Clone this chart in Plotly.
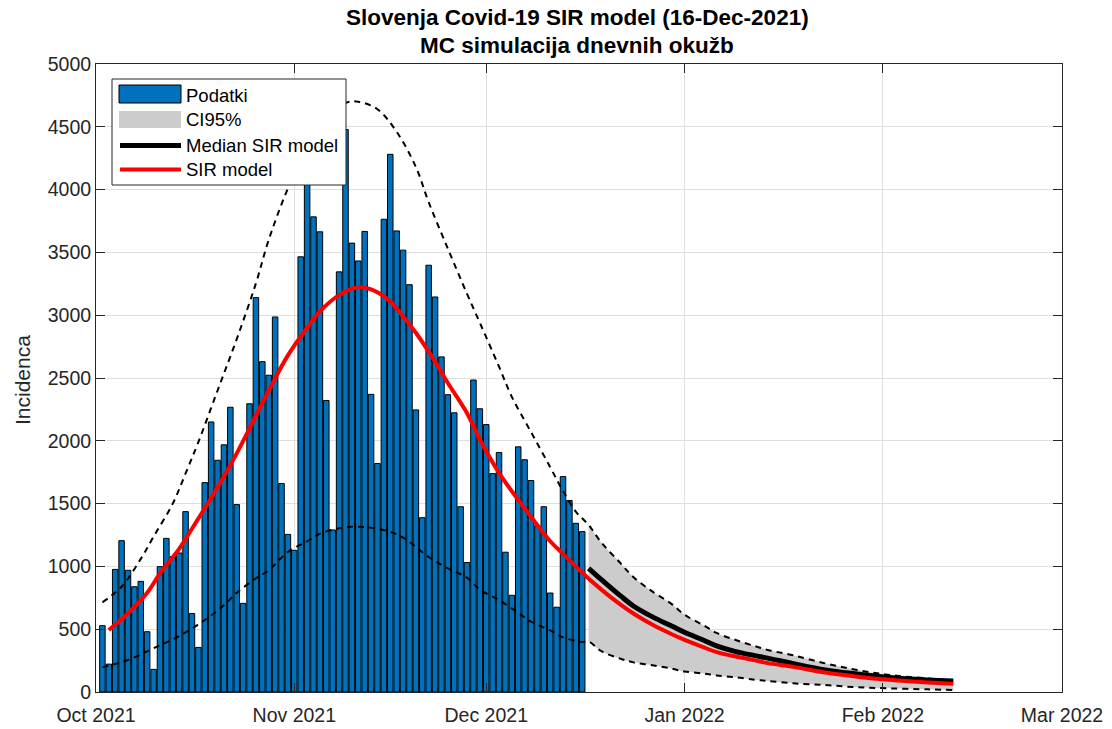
import pandas as pd
import plotly.graph_objects as go

# ---------------------------------------------------------------------------
# Data
# ---------------------------------------------------------------------------
origin = pd.Timestamp("2021-10-01")

# Daily confirmed infections, 2 Oct – 16 Dec 2021
cases = [
    528, 222, 976, 1205, 969, 838, 881, 480, 180, 998,
    1223, 1078, 1107, 1436, 625, 355, 1667, 2150, 1845, 1968,
    2267, 1492, 706, 2295, 3140, 2630, 2522, 2986, 1660, 1255,
    1128, 3465, 4090, 3783, 3664, 2321, 1290, 3345, 4478, 3574,
    3432, 3667, 2370, 1819, 3764, 4281, 3671, 3518, 3243, 2246,
    1388, 3398, 3145, 2668, 2367, 2223, 1475, 1031, 2484, 2255,
    2129, 1739, 1907, 1113, 770, 1952, 1849, 1684, 1323, 1475,
    788, 675, 1715, 1525, 1343, 1277,
]
case_first_day = "2021-10-02"

# SIR model fit (days after 1 Oct 2021)
sir_day = [2, 5, 8, 10, 13, 15, 18, 20, 22, 25, 27, 30, 33, 35, 38, 41, 43, 46,
           48, 50, 53, 55, 58, 60, 63, 66, 68, 71, 73, 76, 79, 82, 84, 87, 90,
           92, 95, 97, 100, 103, 105, 109, 114, 119, 124, 130, 134]
sir_val = [494, 626, 790, 945, 1140, 1300, 1545, 1715, 1900, 2200, 2400, 2680,
           2900, 3030, 3160, 3222, 3205, 3110, 2990, 2860, 2630, 2460, 2220,
           2010, 1745, 1530, 1395, 1200, 1100, 950, 815, 695, 625, 535, 460,
           415, 355, 318, 282, 252, 230, 200, 155, 122, 97, 76, 66]

# 95 % Monte-Carlo envelope (days after 1 Oct 2021)
ci_day = [1, 4, 7, 9, 12, 14, 16, 19, 22, 25, 27, 30, 33, 36, 39, 41, 44, 47,
          50, 52, 55, 58, 60, 63, 65, 68, 71, 73, 75, 77, 79, 82, 84, 87, 90,
          92, 95, 97, 100, 103, 105, 109, 114, 119, 124, 130, 134]
ci_upper = [714, 838, 1060, 1237, 1500, 1740, 1990, 2400, 2810, 3254, 3600,
            4010, 4330, 4560, 4690, 4700, 4640, 4460, 4180, 3900, 3530, 3170,
            2940, 2590, 2350, 2070, 1790, 1600, 1436, 1330, 1190, 1025, 915,
            799, 700, 615, 530, 470, 414, 365, 335, 292, 228, 175, 136, 108, 90]
ci_lower_day = [1, 5, 9, 13, 17, 20, 22, 25, 27, 30, 33, 35, 38, 40, 43, 46,
                48, 50, 52, 55, 58, 60, 63, 66, 68, 71, 73, 76, 77, 79, 82, 84,
                87, 90, 92, 95, 97, 100, 103, 105, 109, 114, 119, 124, 130, 134]
ci_lower = [196, 255, 348, 445, 573, 690, 790, 905, 970, 1115, 1200, 1260,
            1303, 1316, 1308, 1275, 1230, 1155, 1075, 985, 910, 815, 732, 630,
            560, 490, 435, 398, 402, 325, 265, 236, 213, 186, 163, 147, 132,
            117, 98, 88, 69, 55, 38, 29, 21, 16]

# Median of the simulated trajectories (forecast part)
med_day = [77, 79, 82, 84, 87, 90, 92, 95, 97, 100, 103, 105, 109, 114, 119,
           124, 130, 134]
med_val = [985, 895, 765, 685, 598, 525, 475, 412, 368, 322, 290, 270, 226,
           176, 143, 115, 96, 88]

forecast_start_day = 77   # 17 Dec 2021

month_ticks = ["2021-10-01", "2021-11-01", "2021-12-01",
               "2022-01-01", "2022-02-01", "2022-03-01"]
month_labels = ["Oct 2021", "Nov 2021", "Dec 2021",
                "Jan 2022", "Feb 2022", "Mar 2022"]
y_ticks = list(range(0, 5001, 500))

title_lines = ["Slovenja Covid-19 SIR model (16-Dec-2021)",
               "MC simulacija dnevnih okužb"]
legend_labels = ["Podatki", "CI95%", "Median SIR model", "SIR model"]

# ---------------------------------------------------------------------------
# Styling
# ---------------------------------------------------------------------------
W, H = 1112, 729
ML, MR, MT, MB = 96, 50, 64, 37
FONT = "Arial, 'Liberation Sans', Helvetica, sans-serif"
AX = "#262626"
BLUE = "#0072BD"
GREY = "#CCCCCC"
DASH = "6px,5px"
TICK_SIZE = 19.5


def to_dates(days):
    return [origin + pd.Timedelta(days=int(d)) for d in days]


def px_x(px):
    return (px - ML) / (W - ML - MR)


def px_y(py):
    return 1 - (py - MT) / (H - MT - MB)


case_dates = pd.date_range(case_first_day, periods=len(cases), freq="D")
band_up = [(d, v) for d, v in zip(ci_day, ci_upper) if d >= forecast_start_day]
band_lo = [(d, v) for d, v in zip(ci_lower_day, ci_lower) if d >= forecast_start_day]

fig = go.Figure()

# observed daily cases
fig.add_trace(go.Bar(
    x=case_dates, y=cases, width=0.86 * 86400000,
    marker=dict(color=BLUE, line=dict(color="black", width=1)),
    showlegend=False,
))

# shaded CI over the forecast horizon
fig.add_trace(go.Scatter(
    x=to_dates([d for d, _ in band_up]), y=[v for _, v in band_up],
    mode="lines", line=dict(width=0, shape="spline", color=GREY),
    showlegend=False, hoverinfo="skip",
))
fig.add_trace(go.Scatter(
    x=to_dates([d for d, _ in band_lo]), y=[v for _, v in band_lo],
    mode="lines", line=dict(width=0, shape="spline", color=GREY),
    fill="tonexty", fillcolor=GREY, showlegend=False, hoverinfo="skip",
))

# CI envelope lines
fig.add_trace(go.Scatter(
    x=to_dates(ci_day), y=ci_upper, mode="lines",
    line=dict(color="black", width=2, dash=DASH, shape="spline"),
    showlegend=False,
))
fig.add_trace(go.Scatter(
    x=to_dates(ci_lower_day), y=ci_lower, mode="lines",
    line=dict(color="black", width=2, dash=DASH, shape="spline"),
    showlegend=False,
))

# median forecast
fig.add_trace(go.Scatter(
    x=to_dates(med_day), y=med_val, mode="lines",
    line=dict(color="black", width=5, shape="spline"),
    showlegend=False,
))

# SIR model
fig.add_trace(go.Scatter(
    x=to_dates(sir_day), y=sir_val, mode="lines",
    line=dict(color="#FF0000", width=4, shape="spline"),
    showlegend=False,
))

# ---------------------------------------------------------------------------
# Legend (drawn as a boxed key in the upper-left corner)
# ---------------------------------------------------------------------------
shapes = [
    dict(type="rect", xref="paper", yref="paper", layer="above",
         x0=px_x(112), x1=px_x(346), y0=px_y(185), y1=px_y(79),
         line=dict(color=AX, width=1), fillcolor="white"),
    dict(type="rect", xref="paper", yref="paper", layer="above",
         x0=px_x(119), x1=px_x(181), y0=px_y(103), y1=px_y(85),
         line=dict(color="black", width=1), fillcolor=BLUE),
    dict(type="rect", xref="paper", yref="paper", layer="above",
         x0=px_x(119), x1=px_x(181), y0=px_y(128), y1=px_y(111),
         line=dict(width=0), fillcolor=GREY),
    dict(type="line", xref="paper", yref="paper", layer="above",
         x0=px_x(120), x1=px_x(181), y0=px_y(145.5), y1=px_y(145.5),
         line=dict(color="black", width=5)),
    dict(type="line", xref="paper", yref="paper", layer="above",
         x0=px_x(120), x1=px_x(181), y0=px_y(169.5), y1=px_y(169.5),
         line=dict(color="#FF0000", width=4)),
]
annotations = []
for label, cy in zip(legend_labels, [95, 120, 145, 169]):
    annotations.append(dict(
        text=label, xref="paper", yref="paper", x=px_x(184), y=px_y(cy),
        xanchor="left", yanchor="middle", showarrow=False,
        font=dict(family=FONT, size=18.5, color="black"),
    ))

# y-axis title
annotations.append(dict(
    text="Incidenca", xref="paper", yref="paper", x=px_x(22), y=px_y(380),
    xanchor="center", yanchor="middle", textangle=-90, showarrow=False,
    font=dict(family=FONT, size=21, color=AX),
))

# two-line bold title
for line, cy in zip(title_lines, [18, 46]):
    annotations.append(dict(
        text="<b>%s</b>" % line, xref="paper", yref="paper",
        x=px_x(577), y=px_y(cy), xanchor="center", yanchor="middle",
        showarrow=False, font=dict(family=FONT, size=22.5, color="black"),
    ))

fig.update_layout(
    width=W, height=H,
    margin=dict(l=ML, r=MR, t=MT, b=MB, autoexpand=False),
    paper_bgcolor="white", plot_bgcolor="white",
    font=dict(family=FONT, size=TICK_SIZE, color=AX),
    shapes=shapes, annotations=annotations,
    showlegend=False,
    xaxis=dict(
        type="date", range=["2021-10-01", "2022-03-01"],
        tickvals=month_ticks, ticktext=month_labels,
        showgrid=True, gridcolor="#DFDFDF", gridwidth=1,
        showline=True, linecolor=AX, linewidth=1, mirror="ticks",
        ticks="inside", ticklen=9, tickcolor=AX,
        tickfont=dict(family=FONT, size=TICK_SIZE, color=AX),
        ticklabelstandoff=6,
        zeroline=False, automargin=False,
    ),
    yaxis=dict(
        range=[0, 5000], tickvals=y_ticks,
        showgrid=True, gridcolor="#DFDFDF", gridwidth=1,
        showline=True, linecolor=AX, linewidth=1, mirror="ticks",
        ticks="inside", ticklen=9, tickcolor=AX,
        tickfont=dict(family=FONT, size=TICK_SIZE, color=AX),
        zeroline=False, automargin=False,
    ),
)

fig.write_html("out.html")
